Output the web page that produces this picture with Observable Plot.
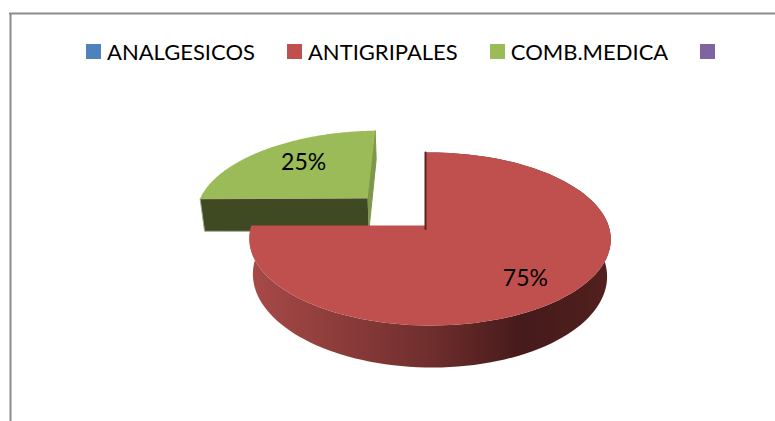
<!DOCTYPE html>
<html>
<head>
<meta charset="utf-8">
<script src="https://cdn.jsdelivr.net/npm/d3@7"></script>
<script src="https://cdn.jsdelivr.net/npm/@observablehq/plot@0.6"></script>
<style>
html,body{margin:0;padding:0;background:#fff;overflow:hidden}
#wrap{position:relative;width:775px;height:421px}
#legend{position:absolute;left:86px;top:38px;display:flex;align-items:center;height:27px;font-family:Lato,sans-serif;font-size:22px;color:#000;white-space:nowrap}
#legend .item{display:flex;align-items:center;margin-right:32px}
#legend i{display:block;width:15px;height:15px;margin-right:6px}
svg{display:block}
</style>
</head>
<body>
<div id="wrap"><div id="legend"></div><div id="chart"></div></div>
<script>
const categories = ["ANALGESICOS", "ANTIGRIPALES", "COMB.MEDICA", ""];
const values = [0, 75, 25, 0];
const colors = ["#4f81bd", "#c0504d", "#9bbb59", "#8064a2"];

// legend
const legend = d3.select("#legend");
categories.forEach((c, i) => {
  const it = legend.append("div").attr("class", "item");
  it.append("i").style("background", colors[i]);
  if (c) it.append("span").text(c);
});

// projective view of the tilted pie
const view = {cx: 425, cy: 225, rx: 178.4, ry: 84.4, k: 0.156, m: 0.025, depth: 35.4, shrink: 0.02};
function project(u, v, z = 0) {
  const w = 1 - view.k * v - view.m * u;
  return {x: view.cx + view.rx * u * (1 - view.shrink * z) / w,
          y: view.cy + (view.ry * v + view.depth * z) / w};
}
const pie = d3.pie().sort(null)(values);
const explode = [0, 0, 0.345, 0];
const radius = [1, 1, 1.03, 1];
function offset(s, i) {
  const mid = (s.startAngle + s.endAngle) / 2;
  return [Math.sin(mid) * explode[i] * Math.SQRT2, -Math.cos(mid) * explode[i] * Math.SQRT2];
}
function arc(s, i, z = 0) {
  const [ou, ov] = offset(s, i);
  const n = 120, pts = [];
  for (let j = 0; j <= n; j++) {
    const a = s.startAngle + (s.endAngle - s.startAngle) * j / n;
    pts.push(project(ou + radius[i] * Math.sin(a), ov - radius[i] * Math.cos(a), z));
  }
  return pts;
}
const apex = (s, i, z = 0) => { const [ou, ov] = offset(s, i); return project(ou, ov, z); };
const wedge = (s, i) => [apex(s, i), ...arc(s, i)];
const wall = (s, i) => [...arc(s, i), ...arc(s, i, 1).reverse()];

const RED = 1, GREEN = 2;
const labelR = [0, 0.757, 0.68, 0];
const labelTurn = [0, 0.058, 0.075, 0];
const labels = pie.map((s, i) => {
  const mid = (s.startAngle + s.endAngle) / 2 + labelTurn[i];
  const [ou, ov] = offset(s, i);
  return {...project(ou + Math.sin(mid) * labelR[i], ov - Math.cos(mid) * labelR[i]), t: values[i] + "%", v: values[i]};
}).filter(d => d.v > 0);

const gs = pie[GREEN], rs = pie[RED];
const greenFront = [apex(gs, GREEN), arc(gs, GREEN)[0], arc(gs, GREEN, 1)[0], apex(gs, GREEN, 1)];
const greenSide = [apex(gs, GREEN), arc(gs, GREEN).at(-1), arc(gs, GREEN, 1).at(-1), apex(gs, GREEN, 1)];
const redInner = [arc(rs, RED)[0], apex(rs, RED), apex(rs, RED, 0.1)];

const defs = () => {
  const d = d3.create("svg:defs");
  const g = d.append("linearGradient").attr("id", "redWall");
  [[0, "#a84a48"], [0.5, "#6f2e2d"], [0.76, "#451a1a"], [1, "#52201f"]].forEach(([o, c]) =>
    g.append("stop").attr("offset", o).attr("stop-color", c));
  return d.node();
};

const xy = {x: "x", y: "y"};
const chart = Plot.plot({
  width: 775, height: 421, margin: 0,
  x: {domain: [0, 775], range: [0, 775], axis: null},
  y: {domain: [0, 421], range: [0, 421], axis: null},
  style: {background: "#fff"},
  marks: [
    defs,
    Plot.ruleY([13], {x1: 9, x2: 775, stroke: "#8c8c8c", strokeWidth: 2}),
    Plot.ruleX([10], {y1: 13, y2: 421, stroke: "#8c8c8c", strokeWidth: 2}),
    Plot.line(greenSide, {...xy, fill: "#7d9848", stroke: "#7d9848", strokeWidth: 1}),
    Plot.line(greenFront, {...xy, fill: "#3f4a22", stroke: "#a8aa98", strokeWidth: 1}),
    Plot.line(wedge(gs, GREEN), {...xy, fill: colors[GREEN]}),
    Plot.line(wall(rs, RED), {...xy, fill: "url(#redWall)"}),
    Plot.line(wedge(rs, RED), {...xy, fill: colors[RED]}),
    Plot.line(redInner, {...xy, stroke: "#5a2322", strokeWidth: 2}),
    Plot.text(labels, {...xy, text: "t", fontFamily: "Lato, sans-serif", fontSize: 23, fill: "#000"})
  ]
});
document.getElementById("chart").appendChild(chart);
</script>
</body>
</html>
